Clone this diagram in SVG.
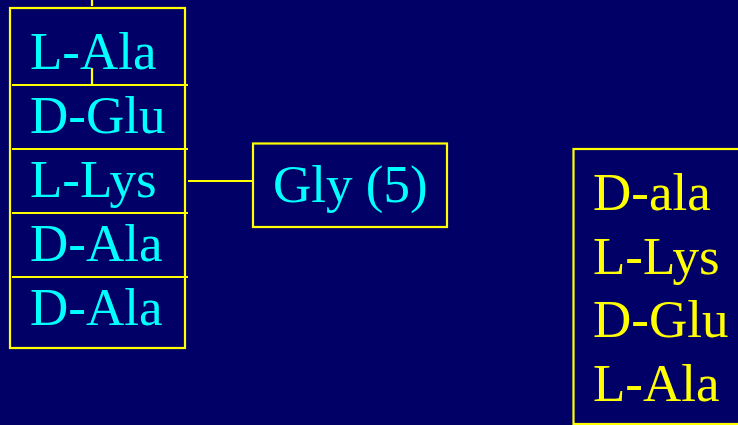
<svg xmlns="http://www.w3.org/2000/svg" width="738" height="425" viewBox="0 0 738 425">
  <style>
    .box { fill: none; stroke: #FFFF00; stroke-width: 2.2; }
    .line { stroke: #FFFF00; stroke-width: 2.2; fill: none; }
    .t { font-family: "Liberation Serif", "Times New Roman", serif; font-size: 53px; }
    .cyan { fill: #00FFFF; }
    .yel { fill: #FFFF00; }
  </style>
  <rect width="738" height="425" fill="#000066"/>

  <!-- peptide stem column -->
  <g id="stem">
    <rect class="box" x="10" y="8" width="175" height="340"/>
    <line class="line" x1="12" y1="85" x2="188" y2="85"/>
    <line class="line" x1="12" y1="149" x2="188" y2="149"/>
    <line class="line" x1="12" y1="213" x2="188" y2="213"/>
    <line class="line" x1="12" y1="277" x2="188" y2="277"/>
    <text class="t cyan" x="30" y="69">L-Ala</text>
    <text class="t cyan" x="30" y="133">D-Glu</text>
    <text class="t cyan" x="30" y="197">L-Lys</text>
    <text class="t cyan" x="30" y="261">D-Ala</text>
    <text class="t cyan" x="30" y="325">D-Ala</text>
  </g>

  <!-- pentaglycine bridge -->
  <g id="gly">
    <rect class="box" x="253" y="143.5" width="194" height="83.5"/>
    <text class="t cyan" x="273" y="202">Gly (5)</text>
  </g>

  <!-- second stem, listed in reverse -->
  <g id="stem2">
    <rect class="box" x="573.5" y="149" width="180" height="275"/>
    <text class="t yel" x="593" y="210">D-ala</text>
    <text class="t yel" x="593" y="274">L-Lys</text>
    <text class="t yel" x="593" y="337">D-Glu</text>
    <text class="t yel" x="593" y="401">L-Ala</text>
  </g>

  <g id="connectors">
    <line class="line" x1="92" y1="0" x2="92" y2="6"/>
    <line class="line" x1="92" y1="68" x2="92" y2="85"/>
    <line class="line" x1="188" y1="181" x2="253" y2="181"/>
  </g>
</svg>
